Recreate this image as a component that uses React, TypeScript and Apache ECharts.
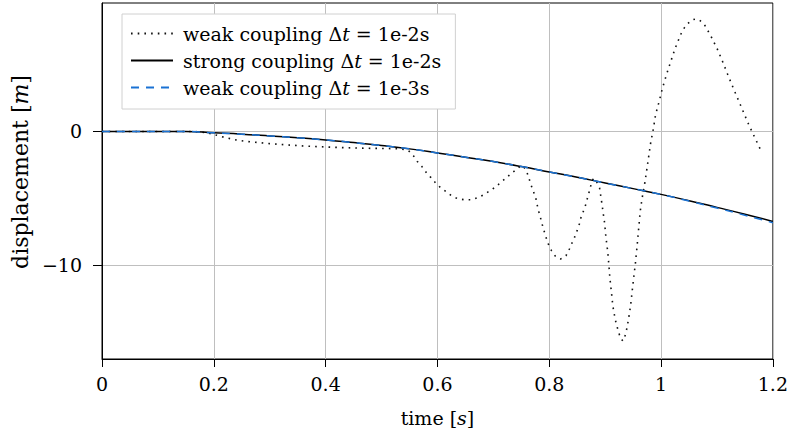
import React, { useEffect, useRef } from "react";
import * as echarts from "echarts";

const FONT = "DejaVu Serif";

// time grid for the smooth curves
const timeGrid = [0, 0.05, 0.1, 0.15, 0.2, 0.25, 0.3, 0.35, 0.4, 0.45, 0.5, 0.55, 0.6, 0.65, 0.7, 0.75, 0.8, 0.85, 0.9, 0.95, 1.0, 1.05, 1.1, 1.15, 1.2];
const strongValues = [0, 0, 0, 0, -0.1, -0.2, -0.33, -0.47, -0.63, -0.83, -1.05, -1.3, -1.6, -1.92, -2.25, -2.62, -3.02, -3.42, -3.85, -4.27, -4.7, -5.17, -5.67, -6.18, -6.72];
const weakFineValues = [0, 0, 0, 0, -0.1, -0.2, -0.33, -0.47, -0.63, -0.83, -1.05, -1.3, -1.6, -1.92, -2.25, -2.62, -3.02, -3.42, -3.85, -4.27, -4.7, -5.2, -5.72, -6.26, -6.82];

// weak coupling dt = 1e-2 s: [time, displacement]
const weakCoarse: [number, number][] = [
  [0, 0], [0.05, 0], [0.1, 0], [0.15, 0], [0.175, -0.02], [0.19, -0.12], [0.2, -0.22], [0.22, -0.45], [0.24, -0.63],
  [0.26, -0.75], [0.28, -0.83], [0.3, -0.91], [0.33, -1.0], [0.36, -1.08], [0.4, -1.16], [0.44, -1.22], [0.48, -1.26],
  [0.52, -1.28], [0.535, -1.31], [0.548, -1.42], [0.557, -1.81], [0.564, -2.24], [0.572, -2.61], [0.58, -3.06],
  [0.588, -3.43], [0.596, -3.81], [0.605, -4.18], [0.615, -4.48], [0.625, -4.8], [0.636, -5.02], [0.648, -5.1],
  [0.66, -5.1], [0.672, -4.95], [0.683, -4.72], [0.693, -4.45], [0.704, -4.15], [0.713, -3.81], [0.722, -3.51],
  [0.733, -3.1], [0.742, -2.81], [0.75, -2.54], [0.758, -2.8], [0.763, -3.4], [0.767, -3.95], [0.771, -4.4],
  [0.776, -5.0], [0.78, -5.8], [0.784, -6.39], [0.789, -7.2], [0.794, -7.88], [0.798, -8.38], [0.804, -8.9],
  [0.81, -9.28], [0.815, -9.45], [0.82, -9.52], [0.825, -9.45], [0.83, -9.28], [0.836, -8.78], [0.8407, -8.33],
  [0.8455, -7.88], [0.85, -7.39], [0.854, -6.89], [0.857, -6.39], [0.8615, -5.92], [0.8656, -5.42], [0.8686, -4.93],
  [0.872, -4.43], [0.875, -3.93], [0.879, -3.5], [0.885, -3.78], [0.89, -4.22], [0.894, -5.35], [0.899, -6.84],
  [0.9013, -7.88], [0.9043, -8.88], [0.9066, -9.95], [0.9084, -10.94], [0.911, -11.94], [0.9138, -13.06],
  [0.918, -14.05], [0.924, -15.0], [0.928, -15.5], [0.932, -15.65], [0.937, -15.1], [0.9417, -14.05],
  [0.9453, -13.06], [0.948, -12.06], [0.9506, -11.07], [0.9537, -10.0], [0.9565, -8.83], [0.9595, -7.46],
  [0.9626, -6.0], [0.966, -5.0], [0.969, -4.3], [0.9715, -3.7], [0.976, -2.4], [0.9815, -0.82], [0.9863, 0.22],
  [0.99, 1.22], [0.9964, 2.22], [1.0023, 3.21], [1.0094, 4.21], [1.0171, 5.2], [1.025, 6.19], [1.034, 7.14],
  [1.039, 7.59], [1.0463, 8.01], [1.0558, 8.34], [1.0615, 8.4], [1.0683, 8.34], [1.0772, 8.01], [1.089, 7.14],
  [1.1003, 6.19], [1.1098, 5.25], [1.1187, 4.31], [1.128, 3.36], [1.1378, 2.39], [1.1473, 1.45], [1.1569, 0.5],
  [1.1676, -0.45], [1.178, -1.37],
];

const seriesNames = ["weak coupling Δt = 1e-2s", "strong coupling Δt = 1e-2s", "weak coupling Δt = 1e-3s"];
const yTicks = [-10, 0];

export default function App() {
  const ref = useRef<HTMLDivElement>(null);
  useEffect(() => {
    if (!ref.current) return;
    const chart = echarts.init(ref.current, null, { renderer: "svg" });
    const txt = { fontFamily: FONT, fontSize: 19, color: "#000" };
    const ytxt = { fontFamily: FONT, fontSize: 22, color: "#000" };
    chart.setOption({
      animation: false,
      backgroundColor: "#fff",
      grid: { left: 102, right: 16, top: 3, bottom: 74, show: true, borderColor: "#000", borderWidth: 1, backgroundColor: "transparent" },
      legend: {
        orient: "vertical",
        left: 122,
        top: 14,
        padding: [10, 14, 12, 8],
        itemGap: 8,
        itemWidth: 42,
        itemHeight: 14,
        borderColor: "#d0d0d0",
        borderWidth: 1,
        backgroundColor: "#fff",
        data: seriesNames,
        itemStyle: { opacity: 0 },
        textStyle: { ...txt, padding: [0, 0, 0, 5], rich: { it: { ...txt, fontStyle: "italic" } } },
        formatter: (name: string) => name.replace("Δt", "Δ{it|t}"),
      },
      xAxis: {
        type: "value",
        min: 0,
        max: 1.2,
        interval: 0.2,
        name: "time [{it|s}]",
        nameLocation: "middle",
        nameGap: 49,
        nameTextStyle: { ...txt, rich: { it: { ...txt, fontStyle: "italic" } } },
        axisLine: { onZero: false, lineStyle: { color: "#000", width: 1 } },
        axisTick: { inside: false, length: 8, lineStyle: { color: "#000" } },
        axisLabel: { ...txt, margin: 15, formatter: (v: number) => String(Math.round(v * 10) / 10) },
        splitLine: { show: true, lineStyle: { color: "#bfbfbf", width: 1 } },
      },
      yAxis: {
        type: "value",
        min: -17,
        max: 9.6,
        name: "displacement [{it|m}]",
        nameLocation: "middle",
        nameGap: 71,
        nameTextStyle: { ...ytxt, padding: [0, 0, 0, 18], rich: { it: { ...ytxt, fontStyle: "italic" } } },
        axisLine: { show: true, onZero: false, lineStyle: { color: "#000", width: 1 } },
        axisTick: { show: true, length: 9, customValues: yTicks, lineStyle: { color: "#000" } },
        axisLabel: { ...txt, margin: 20, customValues: yTicks, formatter: (v: number) => (v < 0 ? "\u2212" + Math.abs(v) : String(v)) },
        splitLine: { show: true, lineStyle: { color: "#bfbfbf", width: 1 } },
      },
      series: [
        {
          name: seriesNames[0],
          type: "line",
          data: weakCoarse,
          symbol: "none",
          lineStyle: { color: "#111", width: 1.6, type: [1.6, 5.1] },
          itemStyle: { color: "#111" },
        },
        {
          name: seriesNames[1],
          type: "line",
          data: timeGrid.map((t, i) => [t, strongValues[i]]),
          symbol: "none",
          smooth: true,
          lineStyle: { color: "#000", width: 1.5, type: "solid" },
          itemStyle: { color: "#000" },
        },
        {
          name: seriesNames[2],
          type: "line",
          data: timeGrid.map((t, i) => [t, weakFineValues[i]]),
          symbol: "none",
          smooth: true,
          lineStyle: { color: "#1a72d4", width: 1.5, type: [8, 7] },
          itemStyle: { color: "#1a72d4" },
        },
      ],
    });
    return () => chart.dispose();
  }, []);
  return <div ref={ref} style={{ position: "fixed", left: 0, top: 0, width: 791, height: 433 }} />;
}
